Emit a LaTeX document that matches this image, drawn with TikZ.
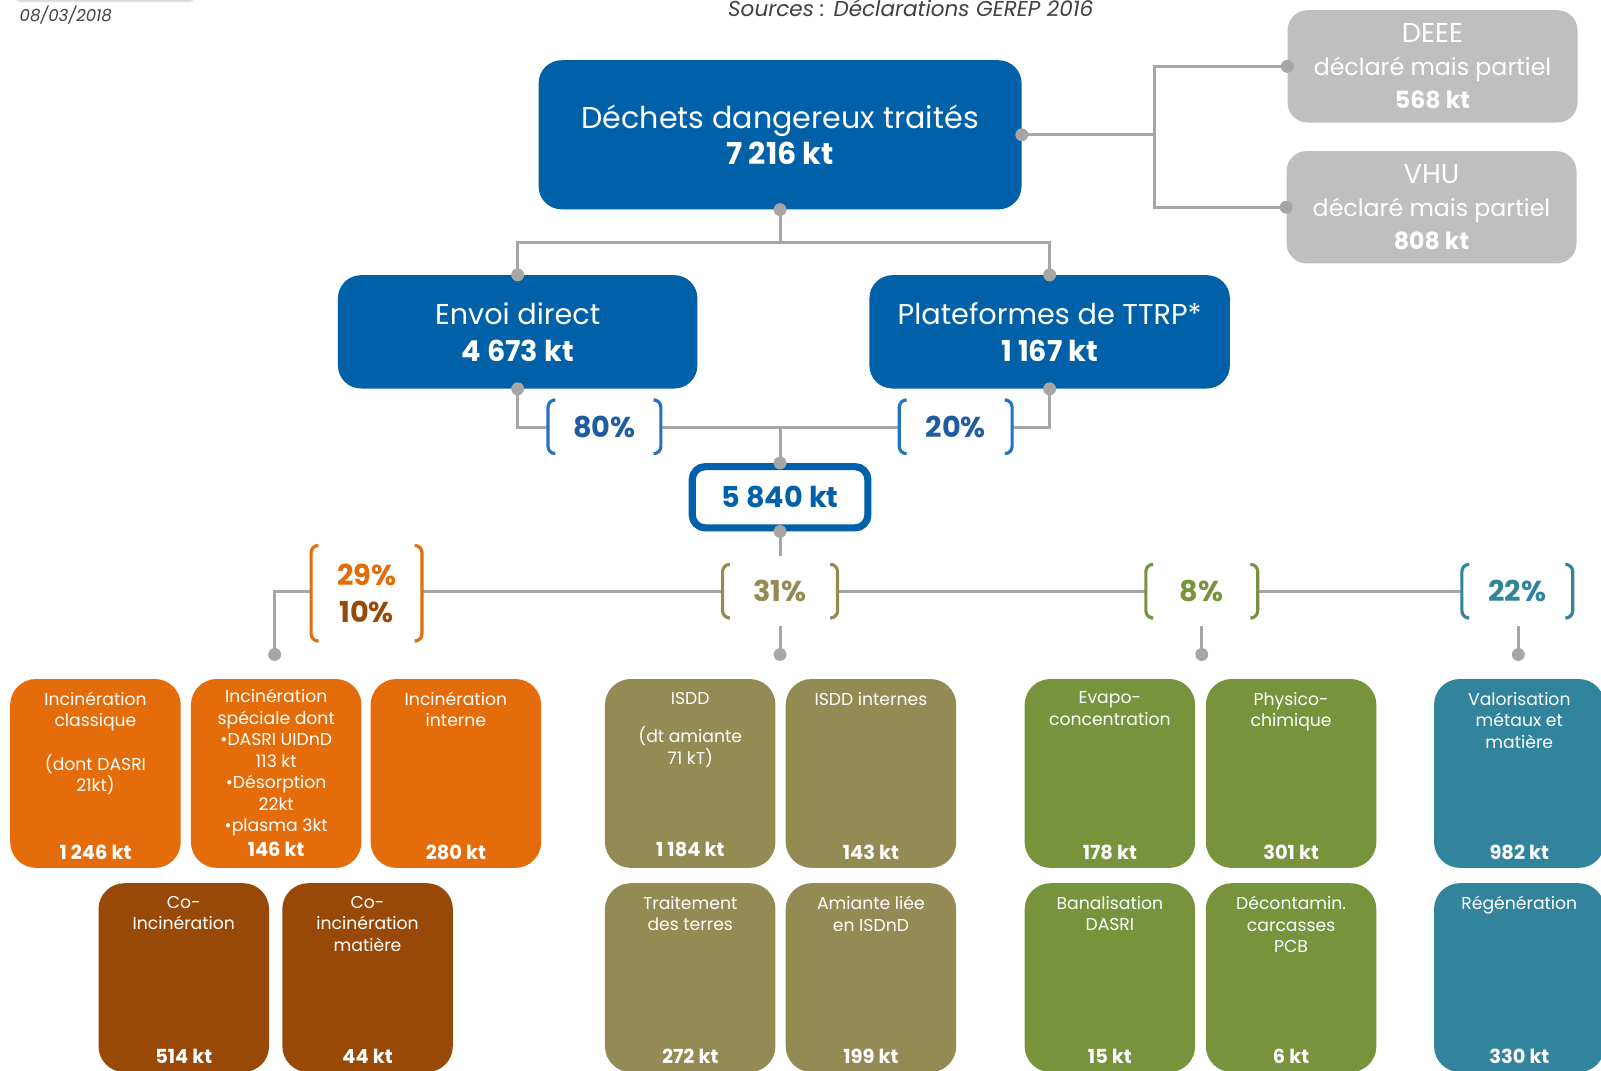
\documentclass[tikz,border=0pt]{standalone}
\usepackage{fontspec}
\setmainfont{Poppins}
\usetikzlibrary{backgrounds}

\definecolor{mainblue}{HTML}{0061A8}
\definecolor{boxgray}{HTML}{BFBFBF}
\definecolor{linegray}{HTML}{A6A6A6}
\definecolor{pctblue}{HTML}{2472C0}
\definecolor{pcttext}{HTML}{1F5C9E}
\definecolor{incorange}{HTML}{E46C0A}
\definecolor{cobrown}{HTML}{984807}
\definecolor{isddolive}{HTML}{948A54}
\definecolor{phygreen}{HTML}{77933C}
\definecolor{valteal}{HTML}{31849B}
\definecolor{notegray}{HTML}{404040}
\definecolor{tabgray}{HTML}{DADDE3}

\newlength\unitpx
\setlength\unitpx{0.025cm}

\tikzset{
  conn/.style={draw=linegray, line width=2pt},
  dot/.style={circle, fill=linegray, inner sep=0pt, minimum size=9pt},
  bluebox/.style={fill=mainblue, rounded corners=16pt, text=white, align=center, inner sep=0pt},
  graybox/.style={fill=boxgray, rounded corners=14pt, text=white, align=center, inner sep=0pt,
    minimum width=284\unitpx, minimum height=110\unitpx, font=\fontsize{16.5}{22.8}\selectfont},
  tilebox/.style={rounded corners=18pt, minimum width=167\unitpx, minimum height=185\unitpx, inner sep=0pt},
  tiletext/.style={text=white, align=center, anchor=north, inner sep=0pt, font=\fontsize{12}{15}\selectfont},
  tileval/.style={text=white, anchor=base, inner sep=0pt, font=\fontsize{13.5}{16}\selectfont\bfseries},
  pct/.style={fill=white, inner sep=0pt, align=center, minimum width=110\unitpx, minimum height=68\unitpx,
    font=\fontsize{20}{25.6}\selectfont\bfseries},
  bracket/.style={line width=2.2pt, line cap=round, rounded corners=5pt},
}

\begin{document}
\begin{tikzpicture}[x=0.025cm, y=-0.025cm]
\useasboundingbox (0,0) rectangle (1568,1048);
\clip (0,0) rectangle (1568,1048);

% header
\fill[tabgray, rounded corners=3pt] (15,-20) rectangle (190,2);
\node[text=notegray, anchor=west, inner sep=0pt, font=\fontsize{11.5}{14}\selectfont\itshape] (date) at (19,15) {08/03/2018};
\node[text=notegray, inner sep=0pt, font=\fontsize{15}{18}\selectfont\itshape] (src) at (892,8) {Sources : Déclarations GEREP 2016};

% main flows
\node[bluebox, minimum width=473\unitpx, minimum height=146\unitpx, font=\fontsize{21}{25}\selectfont] (main) at (764,132) {Déchets dangereux traités\\\textbf{7 216 kt}};
\node[graybox] (deee) at (1403,65) {{\fontsize{19}{22.8}\selectfont DEEE}\\déclaré mais partiel\\\textbf{568 kt}};
\node[graybox] (vhu) at (1402,203) {{\fontsize{19}{22.8}\selectfont VHU}\\déclaré mais partiel\\\textbf{808 kt}};
\node[bluebox, minimum width=352\unitpx, minimum height=111\unitpx, font=\fontsize{20}{26}\selectfont] (env) at (507,325) {Envoi direct\\\textbf{4 673 kt}};
\node[bluebox, minimum width=353\unitpx, minimum height=111\unitpx, font=\fontsize{20}{26}\selectfont] (plat) at (1028,325) {Plateformes de TTRP*\\\textbf{1 167 kt}};
\node[draw=mainblue, line width=5pt, fill=white, rounded corners=9pt, minimum width=172\unitpx, minimum height=60\unitpx,
  text=mainblue, font=\fontsize{20}{24}\selectfont\bfseries] (tot) at (764,487) {5 840 kt};

% shares
\node[pct, text=pcttext] (p80) at (592,418) {80\%};
\node[pct, text=pcttext] (p20) at (936,418) {20\%};
\node[pct, minimum width=108\unitpx, minimum height=109\unitpx] (p29) at (359,581) {{\color{incorange}29\%}\\{\color{cobrown}10\%}};
\node[pct, minimum width=112\unitpx, text=isddolive] (p31) at (764,579) {31\%};
\node[pct, minimum width=109\unitpx, text=phygreen] (p8) at (1177,579) {8\%};
\node[pct, minimum width=108\unitpx, text=valteal] (p22) at (1486,579) {22\%};

\foreach \n/\col in {p80/pctblue, p20/pctblue, p29/incorange, p31/isddolive, p8/phygreen, p22/valteal}{
  \draw[bracket, draw=\col] ([xshift=4pt, yshift=-5.7pt]\n.north west) -- ([yshift=-5.7pt]\n.north west)
    -- ([yshift=5.7pt]\n.south west) -- ([xshift=4pt, yshift=5.7pt]\n.south west);
  \draw[bracket, draw=\col] ([xshift=-4pt, yshift=-5.7pt]\n.north east) -- ([yshift=-5.7pt]\n.north east)
    -- ([yshift=5.7pt]\n.south east) -- ([xshift=-4pt, yshift=5.7pt]\n.south east);
}

\coordinate (d29) at (269,641);
\coordinate (d31) at (764,641);
\coordinate (d8) at (1177,641);
\coordinate (d22) at (1487,641);

% incineration
\node[tilebox, fill=incorange] (icl) at (93.5,757.5) {};
\node[tiletext] (icl-t) at ([yshift=-9pt]icl.north) {Incinération\\classique\\[15pt](dont DASRI\\21kt)};
\node[tileval] (icl-v) at ([yshift=6.4pt]icl.south) {1 246 kt};
\node[tilebox, fill=incorange] (isp) at (270.5,757.5) {};
\node[tiletext] (isp-t) at ([yshift=-7pt]isp.north) {Incinération\\spéciale dont\\•DASRI UIDnD\\113 kt\\•Désorption\\22kt\\•plasma 3kt};
\node[tileval] (isp-v) at ([yshift=8pt]isp.south) {146 kt};
\node[tilebox, fill=incorange] (iint) at (446.5,757.5) {};
\node[tiletext] (iint-t) at ([yshift=-9pt]iint.north) {Incinération\\interne};
\node[tileval] (iint-v) at ([yshift=6.4pt]iint.south) {280 kt};
\node[tilebox, fill=cobrown] (coi) at (180,957.5) {};
\node[tiletext] (coi-t) at ([yshift=-9pt]coi.north) {Co-\\Incinération};
\node[tileval] (coi-v) at ([yshift=6.4pt]coi.south) {514 kt};
\node[tilebox, fill=cobrown] (com) at (360,957.5) {};
\node[tiletext] (com-t) at ([yshift=-9pt]com.north) {Co-\\incinération\\matière};
\node[tileval] (com-v) at ([yshift=6.4pt]com.south) {44 kt};

% stockage
\node[tilebox, fill=isddolive] (isdd) at (676,757.5) {};
\node[tiletext] (isdd-t) at ([yshift=-9pt]isdd.north) {ISDD\\[12pt](dt amiante\\71 kT)};
\node[tileval] (isdd-v) at ([yshift=8pt]isdd.south) {1 184 kt};
\node[tilebox, fill=isddolive] (isddi) at (853,757.5) {};
\node[tiletext] (isddi-t) at ([yshift=-9pt]isddi.north) {ISDD internes};
\node[tileval] (isddi-v) at ([yshift=6.4pt]isddi.south) {143 kt};
\node[tilebox, fill=isddolive] (terr) at (676,957.5) {};
\node[tiletext] (terr-t) at ([yshift=-9pt]terr.north) {Traitement\\des terres};
\node[tileval] (terr-v) at ([yshift=6.4pt]terr.south) {272 kt};
\node[tilebox, fill=isddolive] (amia) at (853,957.5) {};
\node[tiletext] (amia-t) at ([yshift=-9pt]amia.north) {Amiante liée\\en ISDnD};
\node[tileval] (amia-v) at ([yshift=6.4pt]amia.south) {199 kt};

% physico-chimique
\node[tilebox, fill=phygreen] (evap) at (1087,757.5) {};
\node[tiletext] (evap-t) at ([yshift=-9pt]evap.north) {Evapo-\\concentration};
\node[tileval] (evap-v) at ([yshift=6.4pt]evap.south) {178 kt};
\node[tilebox, fill=phygreen] (phys) at (1264.5,757.5) {};
\node[tiletext] (phys-t) at ([yshift=-9pt]phys.north) {Physico-\\chimique};
\node[tileval] (phys-v) at ([yshift=6.4pt]phys.south) {301 kt};
\node[tilebox, fill=phygreen] (bana) at (1087,957.5) {};
\node[tiletext] (bana-t) at ([yshift=-9pt]bana.north) {Banalisation\\DASRI};
\node[tileval] (bana-v) at ([yshift=6.4pt]bana.south) {15 kt};
\node[tilebox, fill=phygreen] (deco) at (1264.5,957.5) {};
\node[tiletext] (deco-t) at ([yshift=-9pt]deco.north) {Décontamin.\\carcasses\\PCB};
\node[tileval] (deco-v) at ([yshift=6.4pt]deco.south) {6 kt};

% valorisation
\node[tilebox, fill=valteal] (valo) at (1488,757.5) {};
\node[tiletext] (valo-t) at ([yshift=-9pt]valo.north) {Valorisation\\métaux et\\matière};
\node[tileval] (valo-v) at ([yshift=6.4pt]valo.south) {982 kt};
\node[tilebox, fill=valteal] (rege) at (1488,957.5) {};
\node[tiletext] (rege-t) at ([yshift=-9pt]rege.north) {Régénération};
\node[tileval] (rege-v) at ([yshift=6.4pt]rege.south) {330 kt};

% connectors
\begin{scope}[on background layer]
  \draw[conn] (main.south) -- ++(0,32) coordinate (jtop);
  \draw[conn] (env.north) |- (jtop) -| (plat.north);
  \draw[conn] (main.east) -- ++(130,0) coordinate (jright);
  \draw[conn] (deee.west) -| (jright) |- (vhu.west);
  \draw[conn] (env.south) -- ++(0,38) -| (plat.south);
  \draw[conn] (tot.north) -- ++(0,-36);
  \draw[conn] (tot.south) -- (d31);
  \draw[conn] (d29) |- (p22.west);
  \draw[conn] (d8) -- (d8 |- p8.center);
  \draw[conn] (d22) -- (d22 |- p22.center);
\end{scope}

\foreach \a [count=\i] in {main.south, main.east, deee.west, vhu.west, env.north, env.south, plat.north, plat.south, tot.north, tot.south, d29, d31, d8, d22}
  \node[dot] (dot\i) at (\a) {};
\end{tikzpicture}
\end{document}
